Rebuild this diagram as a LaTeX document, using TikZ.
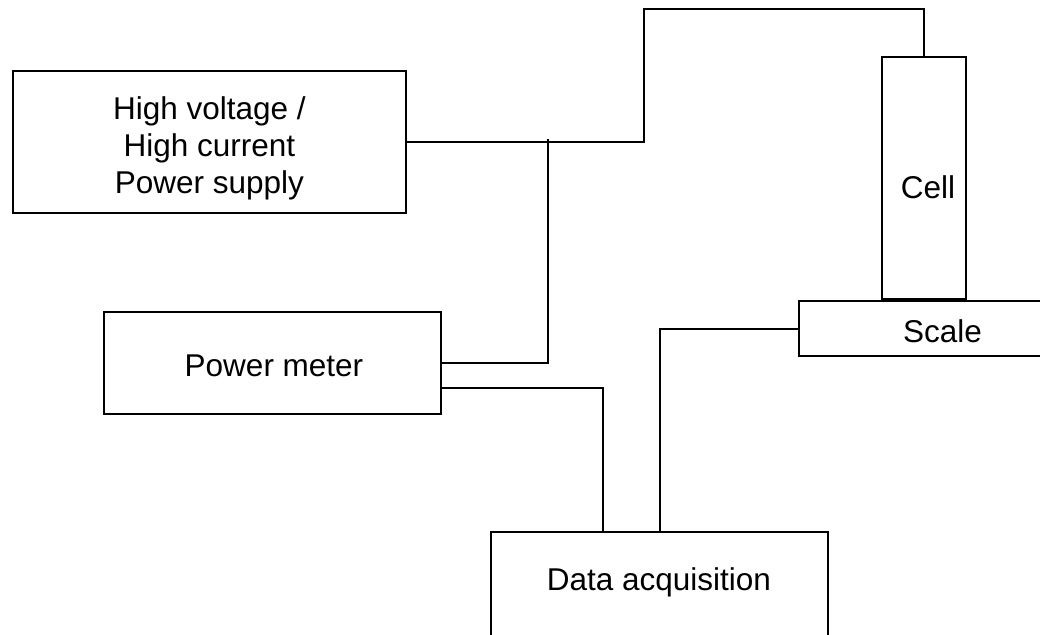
\documentclass[tikz,border=0pt]{standalone}
\usepackage{fontspec}
\setmainfont{Liberation Sans}
\begin{document}
\begin{tikzpicture}[x=1pt,y=-1pt,
  box/.style={draw=black, line width=2pt, inner sep=0pt},
  wire/.style={draw=black, line width=2pt},
  lbl/.style={font=\fontsize{31.5}{37.2}\selectfont, align=center, inner sep=0pt}]
\useasboundingbox (0,0) rectangle (1040,634);
\clip (0,0) rectangle (1040,634);

% equipment boxes
\node[box, minimum width=393pt, minimum height=142pt] (ps) at (209.5,142) {};
\node[box, minimum width=83.7pt, minimum height=242pt] (cell) at (924.2,178) {};
\node[box, minimum width=287pt, minimum height=55pt] (scale) at (942.5,328.5) {};
\node[box, minimum width=337.3pt, minimum height=102.6pt] (pm) at (272.7,363) {};
\node[box, minimum width=337pt, minimum height=136pt] (da) at (659.5,600) {};

% labels
\node[lbl] (pstext) at (209.5,148.5) {High voltage /\\High current\\Power supply};
\node[lbl, anchor=base] (celltext) at (928,198.3) {Cell};
\node[lbl, anchor=base] (scaletext) at (942.5,342.7) {Scale};
\node[lbl, anchor=base] (pmtext) at (274,376) {Power meter};
\node[lbl, anchor=base] (datext) at (659,590.7) {Data acquisition};

% wiring
\coordinate (top) at (644.3,9.3);
\coordinate (tap) at (548.3,139.3);
\draw[wire] (ps.east) -| (top) -| (cell.north);
\draw[wire] (pm.east) -| (tap);
\draw[wire] ([yshift=-25.3pt]pm.east) -| ([xshift=-57pt]da.north);
\draw[wire] (scale.west) -| (da.north);
\end{tikzpicture}
\end{document}
